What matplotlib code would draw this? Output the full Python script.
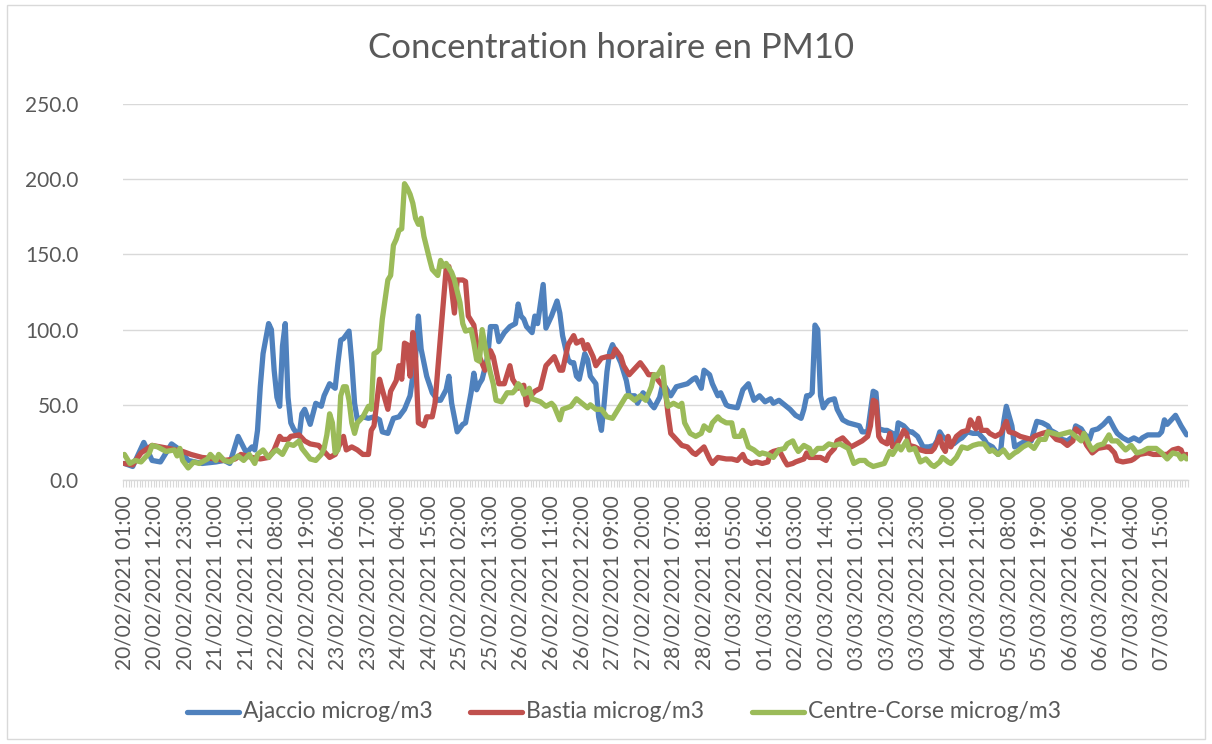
import matplotlib.pyplot as plt
from matplotlib.lines import Line2D
from matplotlib.patches import Rectangle
import numpy as np

# heures depuis le 20/02/2021 01:00 (un point = une heure), valeurs en microg/m3
ajaccio_h = [0, 3, 7, 10, 13, 17, 20, 23, 28, 33, 36, 38, 41, 44, 46, 47, 48, 49, 50, 52, 53, 54, 55, 56, 57, 58, 59, 60, 61, 63, 64, 65, 67, 69, 71, 72, 74, 76, 77, 78, 79, 81, 82, 83, 84, 86, 88, 90, 92, 93, 95, 97, 99, 101, 103, 105, 106, 107, 109, 111, 113, 114, 116, 117, 118, 120, 122, 123, 125, 126, 127, 128, 129, 131, 132, 134, 135, 137, 139, 141, 142, 143, 144, 145, 147, 148, 149, 151, 152, 154, 156, 157, 158, 160, 161, 162, 163, 164, 166, 167, 168, 170, 171, 172, 173, 174, 175, 176, 178, 179, 181, 182, 184, 185, 187, 188, 190, 191, 193, 194, 195, 197, 199, 201, 203, 205, 206, 208, 209, 211, 212, 214, 215, 217, 218, 221, 223, 225, 227, 229, 231, 233, 234, 236, 238, 240, 242, 244, 245, 246, 247, 248, 249, 250, 251, 252, 253, 254, 256, 257, 259, 261, 263, 265, 266, 268, 270, 271, 272, 274, 275, 277, 278, 279, 281, 283, 284, 286, 288, 290, 292, 293, 294, 295, 297, 299, 301, 302, 304, 306, 308, 310, 311, 313, 315, 316, 317, 318, 320, 321, 323, 325, 327, 328, 329, 331, 333, 334, 336, 338, 340, 342, 343, 345, 346, 348, 349, 351, 353, 355, 357, 358, 360, 362, 364, 366, 367, 369, 371, 373, 374, 375, 376, 379, 381, 382, 383]
ajaccio_v = [11, 9, 25, 13, 12, 24, 20, 13, 11, 12, 13, 11, 29, 18, 22, 20, 33, 62, 84, 104, 100, 73, 55, 49, 89, 104, 55, 38, 34, 29, 44, 47, 37, 51, 49, 56, 64, 61, 78, 93, 94, 99, 78, 51, 40, 42, 41, 42, 40, 32, 31, 41, 42, 47, 56, 82, 109, 87, 69, 58, 53, 53, 60, 69, 51, 32, 37, 38, 58, 71, 60, 64, 67, 82, 102, 102, 92, 98, 102, 104, 117, 109, 107, 102, 98, 109, 104, 130, 101, 109, 119, 111, 96, 80, 78, 78, 69, 67, 84, 80, 69, 64, 42, 33, 51, 72, 85, 90, 82, 78, 66, 56, 56, 51, 58, 56, 50, 48, 55, 63, 62, 56, 62, 63, 64, 67, 68, 61, 73, 70, 64, 56, 58, 50, 49, 48, 60, 64, 53, 56, 52, 54, 51, 53, 50, 47, 43, 41, 47, 56, 56, 58, 103, 100, 56, 48, 51, 53, 54, 47, 40, 38, 37, 36, 32, 32, 59, 58, 34, 33, 33, 31, 23, 38, 36, 32, 32, 29, 22, 22, 23, 26, 32, 29, 26, 24, 27, 28, 32, 31, 31, 27, 24, 22, 17, 20, 38, 49, 36, 22, 24, 26, 26, 33, 39, 38, 36, 33, 31, 27, 26, 29, 36, 34, 31, 27, 33, 34, 37, 41, 34, 31, 28, 26, 28, 26, 28, 30, 30, 30, 32, 40, 37, 43, 36, 33, 30]

bastia_h = [0, 3, 6, 10, 13, 16, 21, 24, 28, 33, 36, 40, 42, 46, 49, 52, 54, 56, 57, 59, 60, 63, 65, 67, 70, 72, 74, 76, 79, 80, 82, 84, 86, 88, 89, 90, 92, 93, 95, 96, 98, 99, 100, 101, 102, 103, 104, 105, 106, 107, 108, 109, 111, 112, 114, 116, 117, 119, 120, 122, 123, 124, 126, 127, 128, 130, 132, 133, 134, 135, 137, 139, 140, 142, 143, 144, 145, 146, 148, 150, 152, 155, 157, 158, 160, 162, 163, 165, 166, 167, 169, 170, 172, 174, 176, 177, 179, 180, 182, 184, 186, 188, 189, 191, 193, 195, 196, 197, 199, 201, 203, 205, 206, 209, 211, 212, 214, 217, 219, 221, 223, 224, 226, 228, 230, 232, 233, 234, 236, 238, 239, 241, 242, 245, 246, 247, 249, 251, 253, 254, 256, 257, 259, 260, 262, 264, 266, 268, 269, 270, 271, 272, 273, 275, 276, 277, 278, 280, 281, 282, 283, 285, 287, 289, 291, 292, 294, 295, 296, 297, 298, 300, 302, 304, 305, 307, 308, 309, 311, 312, 314, 316, 318, 319, 321, 323, 325, 327, 328, 331, 333, 334, 336, 338, 340, 342, 343, 345, 347, 349, 351, 354, 355, 357, 358, 360, 363, 364, 366, 369, 371, 372, 374, 376, 378, 380, 381, 382, 383]
bastia_v = [11, 10, 18, 23, 22, 21, 19, 17, 15, 14, 13, 14, 17, 15, 14, 15, 20, 29, 27, 27, 29, 30, 26, 24, 23, 19, 15, 17, 29, 20, 22, 20, 17, 17, 33, 36, 67, 60, 47, 59, 66, 76, 67, 91, 90, 69, 98, 82, 38, 37, 36, 42, 42, 51, 96, 140, 142, 111, 133, 133, 132, 109, 103, 91, 82, 73, 86, 82, 73, 64, 64, 76, 67, 61, 62, 63, 50, 55, 59, 61, 76, 82, 73, 73, 90, 96, 91, 93, 87, 90, 82, 76, 81, 82, 82, 87, 82, 76, 70, 74, 78, 73, 70, 70, 65, 61, 44, 31, 27, 23, 22, 18, 17, 22, 14, 11, 15, 14, 14, 13, 17, 13, 11, 12, 11, 12, 18, 19, 20, 13, 10, 11, 12, 14, 18, 15, 15, 15, 13, 17, 21, 26, 28, 26, 22, 24, 26, 29, 36, 53, 52, 29, 26, 24, 31, 22, 22, 29, 33, 31, 23, 22, 20, 19, 19, 21, 29, 22, 19, 29, 22, 29, 32, 33, 40, 34, 41, 33, 33, 31, 29, 31, 39, 32, 31, 29, 28, 27, 29, 31, 32, 31, 27, 26, 23, 26, 34, 31, 23, 18, 21, 22, 22, 18, 13, 12, 13, 14, 17, 18, 17, 17, 17, 17, 20, 21, 20, 15, 17]

corte_h = [0, 2, 4, 6, 9, 10, 12, 15, 18, 19, 20, 21, 23, 25, 27, 30, 31, 33, 34, 36, 38, 41, 43, 45, 47, 48, 50, 52, 54, 55, 57, 59, 61, 63, 64, 67, 69, 71, 72, 73, 74, 75, 76, 77, 78, 79, 80, 81, 82, 83, 84, 86, 88, 89, 90, 91, 92, 93, 95, 96, 97, 98, 99, 100, 101, 102, 103, 104, 105, 106, 107, 108, 110, 111, 113, 114, 115, 116, 118, 119, 121, 122, 123, 125, 126, 127, 128, 129, 131, 132, 133, 134, 136, 138, 140, 141, 142, 143, 144, 145, 146, 147, 150, 152, 154, 155, 157, 158, 161, 163, 165, 167, 168, 170, 172, 174, 176, 178, 179, 181, 182, 184, 186, 188, 190, 191, 192, 193, 194, 195, 196, 198, 200, 201, 202, 204, 206, 208, 209, 211, 212, 214, 215, 217, 219, 220, 222, 223, 225, 227, 229, 230, 232, 234, 236, 238, 239, 241, 242, 243, 245, 247, 248, 250, 252, 254, 256, 258, 259, 261, 263, 265, 267, 268, 270, 272, 274, 276, 277, 279, 280, 282, 283, 285, 287, 289, 291, 292, 294, 295, 297, 298, 300, 302, 304, 306, 308, 310, 312, 313, 315, 317, 319, 321, 322, 324, 326, 328, 330, 332, 333, 335, 337, 339, 341, 343, 345, 346, 348, 349, 351, 353, 355, 356, 358, 360, 361, 363, 365, 367, 369, 371, 372, 374, 376, 378, 380, 381, 382, 383]
corte_v = [17, 11, 13, 12, 18, 23, 22, 19, 20, 16, 21, 13, 8, 12, 11, 14, 17, 13, 17, 13, 12, 16, 13, 17, 11, 17, 20, 15, 19, 20, 17, 24, 23, 26, 21, 14, 13, 17, 21, 30, 44, 38, 18, 20, 56, 62, 62, 53, 38, 31, 38, 42, 49, 47, 84, 85, 87, 107, 133, 136, 156, 160, 166, 167, 197, 194, 190, 184, 174, 170, 174, 162, 147, 140, 136, 146, 142, 144, 138, 133, 118, 104, 99, 100, 91, 80, 79, 100, 79, 71, 64, 53, 52, 58, 58, 60, 64, 62, 57, 58, 61, 54, 52, 49, 51, 49, 40, 47, 49, 54, 51, 48, 50, 47, 47, 42, 41, 47, 50, 56, 56, 53, 56, 53, 62, 70, 69, 72, 75, 58, 49, 51, 49, 51, 38, 31, 29, 31, 36, 33, 38, 42, 40, 38, 38, 29, 29, 33, 22, 20, 17, 18, 17, 15, 20, 21, 24, 26, 22, 19, 23, 21, 17, 21, 21, 24, 23, 24, 23, 21, 11, 13, 13, 11, 9, 10, 11, 19, 17, 23, 20, 26, 20, 21, 12, 14, 10, 9, 12, 15, 12, 11, 15, 22, 21, 23, 24, 24, 19, 20, 17, 20, 15, 18, 19, 22, 24, 21, 27, 27, 32, 31, 30, 31, 32, 29, 26, 31, 23, 20, 23, 24, 30, 26, 26, 22, 20, 23, 18, 19, 21, 21, 21, 18, 14, 18, 17, 14, 16, 14]

n_heures = 384
etiquettes_x = ['20/02/2021 01:00', '20/02/2021 12:00', '20/02/2021 23:00', '21/02/2021 10:00',
                '21/02/2021 21:00', '22/02/2021 08:00', '22/02/2021 19:00', '23/02/2021 06:00',
                '23/02/2021 17:00', '24/02/2021 04:00', '24/02/2021 15:00', '25/02/2021 02:00',
                '25/02/2021 13:00', '26/02/2021 00:00', '26/02/2021 11:00', '26/02/2021 22:00',
                '27/02/2021 09:00', '27/02/2021 20:00', '28/02/2021 07:00', '28/02/2021 18:00',
                '01/03/2021 05:00', '01/03/2021 16:00', '02/03/2021 03:00', '02/03/2021 14:00',
                '03/03/2021 01:00', '03/03/2021 12:00', '03/03/2021 23:00', '04/03/2021 10:00',
                '04/03/2021 21:00', '05/03/2021 08:00', '05/03/2021 19:00', '06/03/2021 06:00',
                '06/03/2021 17:00', '07/03/2021 04:00', '07/03/2021 15:00']
pas_etiquette = 11

series = [('Ajaccio microg/m3', ajaccio_h, ajaccio_v, '#4F81BD'),
          ('Bastia microg/m3', bastia_h, bastia_v, '#C0504D'),
          ('Centre-Corse microg/m3', corte_h, corte_v, '#9BBB59')]

plt.rcParams['font.family'] = ['Lato', 'DejaVu Sans']
gris = '#595959'
W, H = 1212, 744

fig = plt.figure(figsize=(W / 100, H / 100), dpi=100)
fig.patches.append(Rectangle((7 / W, 5 / H), 1198 / W, 734 / H, transform=fig.transFigure,
                             fill=False, edgecolor='#d9d9d9', linewidth=1))
ax = fig.add_axes([123 / W, 1 - 480 / H, 1065 / W, 376 / H])

for nom, h, v, c in series:
    ax.plot(h, v, color=c, linewidth=3.8, solid_joinstyle='round', solid_capstyle='round', label=nom)

ax.set_xlim(-0.5, n_heures - 0.5)
ax.set_ylim(0, 250)
ax.set_yticks(np.arange(0, 251, 50))
ax.set_yticklabels([f'{t:.1f}' for t in np.arange(0, 251, 50)])
ax.grid(axis='y', color='#d9d9d9', linewidth=1)
ax.set_axisbelow(True)
for s in ['top', 'right', 'left']:
    ax.spines[s].set_visible(False)
ax.spines['bottom'].set_color('#d9d9d9')
ax.spines['bottom'].set_linewidth(1)

ax.set_xticks(np.arange(0, n_heures, pas_etiquette))
ax.set_xticklabels(etiquettes_x, rotation=90, va='top', ha='center')
ax.set_xticks(np.arange(-0.5, n_heures, 1), minor=True)
ax.tick_params(axis='x', which='major', length=0, pad=11, labelsize=15, labelcolor=gris)
ax.tick_params(axis='x', which='minor', length=5, width=0.8, color='#d9d9d9')
ax.tick_params(axis='y', length=0, pad=32, labelsize=15, labelcolor=gris)

fig.text(611 / W, 1 - 48 / H, 'Concentration horaire en PM10', ha='center', va='center',
         fontsize=25, color=gris)

# légende façon Excel : trois cases de même largeur
y_leg = 1 - 712 / H
for k, (nom, h, v, c) in enumerate(series):
    x0 = 187 + k * 282.5
    fig.add_artist(Line2D([x0 / W, (x0 + 52) / W], [y_leg, y_leg], transform=fig.transFigure,
                          color=c, linewidth=3.8, solid_capstyle='round'))
    fig.text((x0 + 56) / W, y_leg, nom, ha='left', va='center', fontsize=16.5, color=gris)

fig.savefig('out.png', dpi=100)
